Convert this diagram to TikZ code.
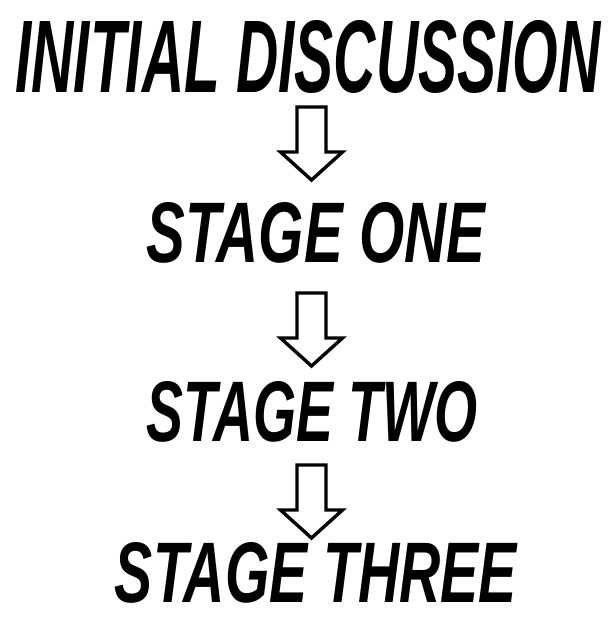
\documentclass[tikz,border=0pt]{standalone}
\usepackage{fontspec}
\usepackage{graphicx}
\setmainfont{Liberation Sans}
\begin{document}
\begin{tikzpicture}[x=1pt,y=-1pt,
  label/.style={inner sep=0pt, font=\bfseries\itshape},
  blockarrow/.style={draw=black, fill=white, line width=3.4pt, line join=miter}]
\useasboundingbox (0,0) rectangle (615,622);
\foreach \n/\yt in {a1/107, a2/293, a3/465}{
  \coordinate (\n) at (311.5,\yt);
  \draw[blockarrow] (\n) ++(-14.5,0) -- ++(29,0) -- ++(0,45) -- ++(16.5,0)
    -- ++(-31,28) -- ++(-31,-28) -- ++(16.5,0) -- cycle;
}
\node[label] (t0) at (308,57) {\resizebox{585pt}{72pt}{INITIAL DISCUSSION}};
\node[label] (t1) at (316,233) {\resizebox{338pt}{60pt}{STAGE ONE}};
\node[label] (t2) at (312,412) {\resizebox{331pt}{60pt}{STAGE TWO}};
\node[label] (t3) at (316,573) {\resizebox{402pt}{60pt}{STAGE THREE}};
\end{tikzpicture}
\end{document}
